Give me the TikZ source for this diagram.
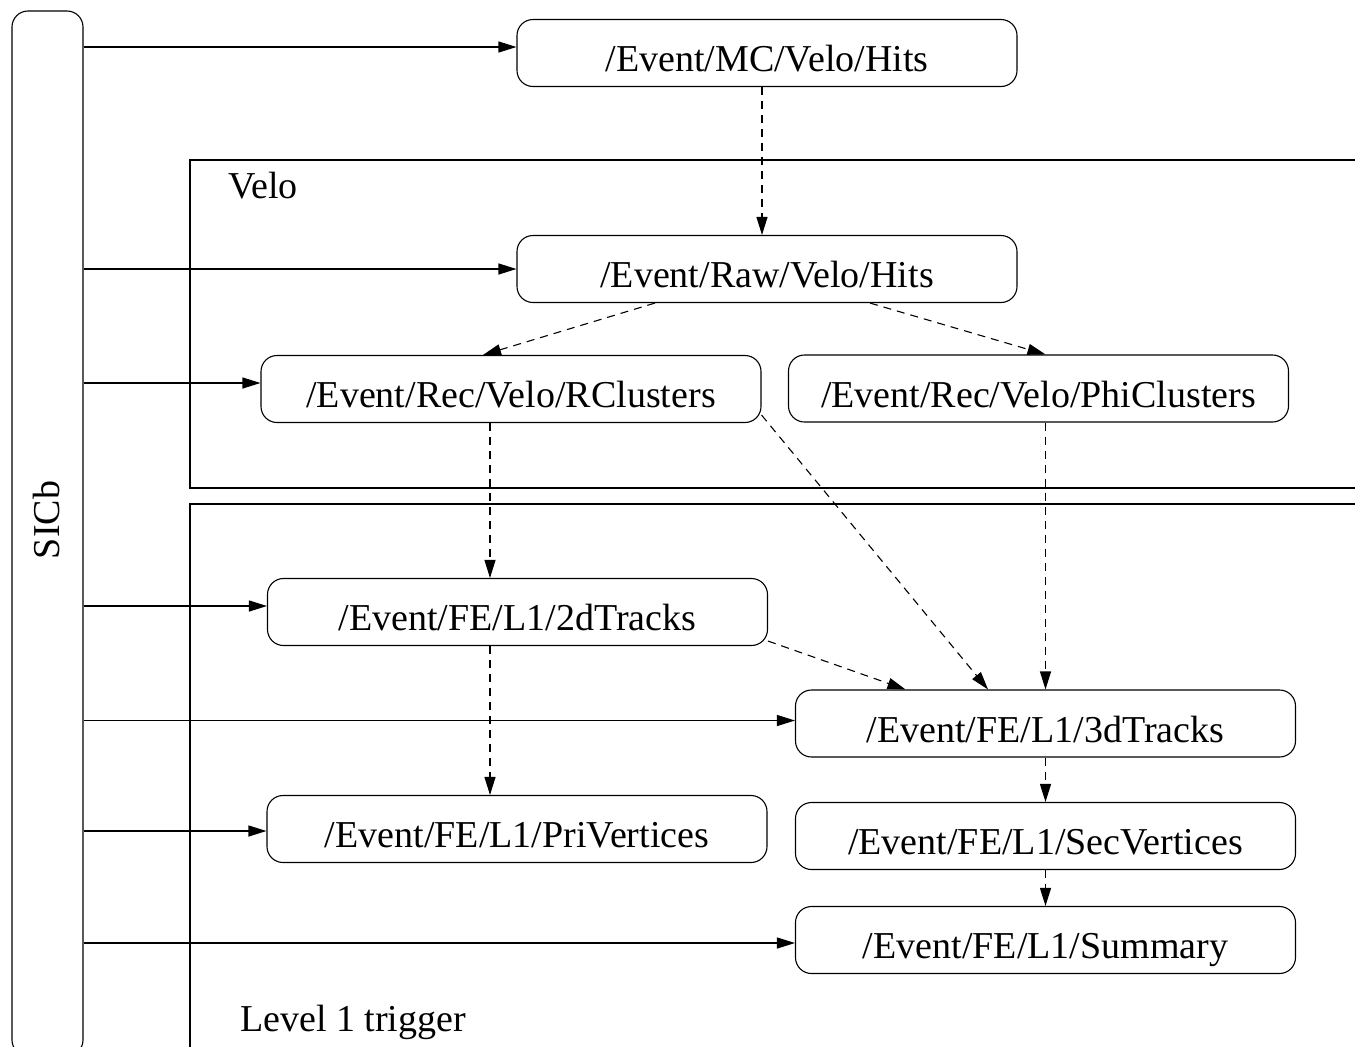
\documentclass[tikz,border=0pt]{standalone}
\usepackage{fontspec}
\setmainfont{Liberation Serif}
\usetikzlibrary{arrows.meta,calc}
\tikzset{
  store/.style={draw, line width=1.1pt, rounded corners=16pt, minimum width=500pt,
    minimum height=67pt, inner sep=0pt, text height=37pt, text depth=0pt,
    font=\fontsize{38pt}{44pt}\selectfont},
  feed/.style={line width=1.2pt, -{Triangle[length=18pt,width=11pt]}},
  flow/.style={line width=1.1pt, dash pattern=on 8pt off 6pt, -{Triangle[length=18pt,width=11pt]}},
  frame/.style={line width=1.2pt},
  tag/.style={font=\fontsize{38pt}{44pt}\selectfont, inner sep=0pt},
}
\begin{document}
\begin{tikzpicture}[x=1pt,y=-1pt]
\useasboundingbox (0,0) rectangle (1355,1047);
\clip (0,0) rectangle (1355,1047);

% sub-detector frames, open towards the right
\draw[frame] (1400,160) -| (190,488) -- (1400,488);
\draw[frame] (1400,504) -| (190,1100);
\node[tag, anchor=west] (velolbl) at (228,186) {Velo};
\node[tag, anchor=west] (l1lbl) at (240,1022) {Level 1 trigger};

% SICb column
\node[draw, line width=1.1pt, rounded corners=16pt, minimum width=71pt,
      minimum height=1045pt, inner sep=0pt] (sicb) at (47.5,533.5) {};
\node[tag, rotate=90] (sicblbl) at (47,520) {SICb};

% data stores
\node[store] (mc)  at (767,53)      {/Event/MC/Velo/Hits};
\node[store] (raw) at (767,269)     {/Event/Raw/Velo/Hits};
\node[store] (rcl) at (511,389)     {/Event/Rec/Velo/RClusters};
\node[store] (phi) at (1038.5,388.5){/Event/Rec/Velo/PhiClusters};
\node[store] (t2d) at (517.5,612)   {/Event/FE/L1/2dTracks};
\node[store] (t3d) at (1045.5,723.5){/Event/FE/L1/3dTracks};
\node[store] (pv)  at (517,829)     {/Event/FE/L1/PriVertices};
\node[store] (sv)  at (1045.5,836)  {/Event/FE/L1/SecVertices};
\node[store] (sum) at (1045.5,940)  {/Event/FE/L1/Summary};

% SICb feeds (each enters its store a little off centre)
\foreach \n/\dy in {mc/6,raw/0,rcl/6,t2d/6,t3d/3,pv/-2,sum/-3}
  \draw[feed] ([yshift=\dy pt]sicb.east |- \n.west) -- ([yshift=\dy pt]\n.west);

% processing flow
\draw[flow] ([xshift=-5pt]mc.south) -- ([xshift=-5pt]raw.north);
\draw[flow] ([xshift=-112pt]raw.south) -- ([xshift=-28pt]rcl.north);
\draw[flow] ([xshift=103pt]raw.south) -- ([xshift=7pt]phi.north);
\draw[flow] ([xshift=-21pt]rcl.south) -- ([xshift=-27.5pt]t2d.north);
\draw[flow] ([yshift=8pt]rcl.south east) -- ([xshift=-57.5pt]t3d.north);
\draw[flow] ([xshift=7pt]phi.south) -- (t3d.north);
\draw[flow] ([yshift=5pt]t2d.south east) -- ([xshift=-140pt]t3d.north);
\draw[flow] ([xshift=-27.5pt]t2d.south) -- ([xshift=-27pt]pv.north);
\draw[flow] (t3d.south) -- (sv.north);
\draw[flow] (sv.south) -- (sum.north);
\end{tikzpicture}
\end{document}
